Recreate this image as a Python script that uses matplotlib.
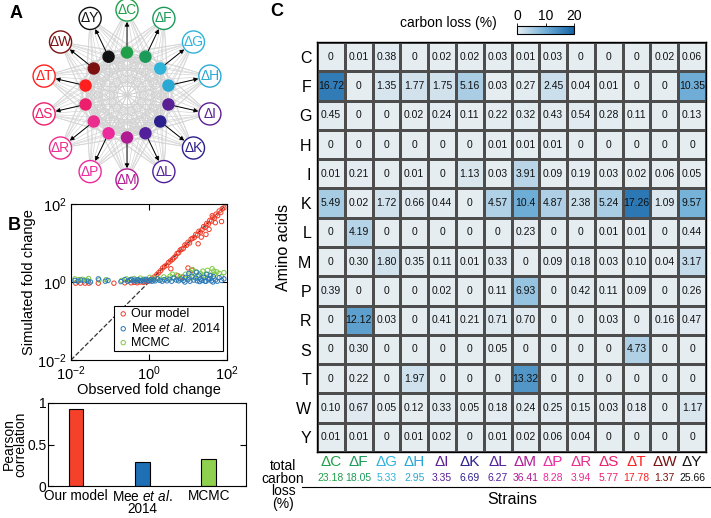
import numpy as np
import matplotlib
matplotlib.use("Agg")
import matplotlib.pyplot as plt
from matplotlib.patches import Circle
from matplotlib.lines import Line2D
from matplotlib.colors import LinearSegmentedColormap
from matplotlib.ticker import LogLocator, LogFormatterMathtext, NullLocator
import matplotlib.transforms as mtransforms

plt.rcParams['font.family'] = ['Liberation Sans', 'DejaVu Sans']
plt.rcParams['mathtext.fontset'] = 'custom'
plt.rcParams['mathtext.rm'] = 'Liberation Sans'
plt.rcParams['mathtext.it'] = 'Liberation Sans:italic'

# ---------------- data ----------------
strains = ['C', 'F', 'G', 'H', 'I', 'K', 'L', 'M', 'P', 'R', 'S', 'T', 'W', 'Y']
strain_colors = ['#1fa048', '#1b9a5a', '#2eb4da', '#2aa8d4', '#5a1f94', '#2a1f8c',
                 '#51209a', '#b01a93', '#ec2a9c', '#ea2d8e', '#ec1f6c', '#ff1f1f',
                 '#7c1010', '#111111']
amino_acids = ['C', 'F', 'G', 'H', 'I', 'K', 'L', 'M', 'P', 'R', 'S', 'T', 'W', 'Y']

loss_text = [
    ['0', '0.01', '0.38', '0', '0.02', '0.02', '0.03', '0.01', '0.03', '0', '0', '0', '0.02', '0.06'],
    ['16.72', '0', '1.35', '1.77', '1.75', '5.16', '0.03', '0.27', '2.45', '0.04', '0.01', '0', '0', '10.35'],
    ['0.45', '0', '0', '0.02', '0.24', '0.11', '0.22', '0.32', '0.43', '0.54', '0.28', '0.11', '0', '0.13'],
    ['0', '0', '0', '0', '0', '0', '0.01', '0.01', '0.01', '0', '0', '0', '0', '0'],
    ['0.01', '0.21', '0', '0.01', '0', '1.13', '0.03', '3.91', '0.09', '0.19', '0.03', '0.02', '0.06', '0.05'],
    ['5.49', '0.02', '1.72', '0.66', '0.44', '0', '4.57', '10.4', '4.87', '2.38', '5.24', '17.26', '1.09', '9.57'],
    ['0', '4.19', '0', '0', '0', '0', '0', '0.23', '0', '0', '0.01', '0.01', '0', '0.44'],
    ['0', '0.30', '1.80', '0.35', '0.11', '0.01', '0.33', '0', '0.09', '0.18', '0.03', '0.10', '0.04', '3.17'],
    ['0.39', '0', '0', '0', '0.02', '0', '0.11', '6.93', '0', '0.42', '0.11', '0.09', '0', '0.26'],
    ['0', '12.12', '0.03', '0', '0.41', '0.21', '0.71', '0.70', '0', '0', '0.03', '0', '0.16', '0.47'],
    ['0', '0.30', '0', '0', '0', '0', '0.05', '0', '0', '0', '0', '4.73', '0', '0'],
    ['0', '0.22', '0', '1.97', '0', '0', '0', '13.32', '0', '0', '0', '0', '0', '0'],
    ['0.10', '0.67', '0.05', '0.12', '0.33', '0.05', '0.18', '0.24', '0.25', '0.15', '0.03', '0.18', '0', '1.17'],
    ['0.01', '0.01', '0', '0.01', '0.02', '0', '0.01', '0.02', '0.06', '0.04', '0', '0', '0', '0'],
]
total_loss = ['23.18', '18.05', '5.33', '2.95', '3.35', '6.69', '6.27', '36.41',
              '8.28', '3.94', '5.77', '17.78', '1.37', '25.66']

bar_labels = ['Our model', 'Mee $\\it{et}$ $\\it{al.}$\n2014', 'MCMC']
bar_values = [0.93, 0.29, 0.33]
bar_colors = ['#f5402a', '#1f6fb5', '#8fd14f']

# log10 observed / simulated fold change
our_x = [-1.88, -1.76, -1.64, -1.54, -1.30, -0.90, -0.62, -0.46, -0.38, -0.30,
         -0.22, -0.14, -0.06, 0.02, 0.08, 0.14, 0.20, 0.25, 0.30, 0.35,
         0.40, 0.45, 0.50, 0.55, 0.60, 0.64, 0.68, 0.72, 0.76, 0.80,
         0.84, 0.88, 0.92, 0.96, 1.00, 1.04, 1.08, 1.12, 1.16, 1.20,
         1.24, 1.28, 1.32, 1.36, 1.40, 1.44, 1.48, 1.52, 1.56, 1.60,
         1.64, 1.68, 1.72, 1.76, 1.80, 1.84, 1.88, 1.92, 0.74, 0.86,
         1.00, 1.10, 1.26, 1.46, 1.54, 1.70, 1.86, 0.56, 1.34, 1.62]
our_y = [-0.03, -0.03, -0.03, -0.03, -0.03, -0.03, -0.02, -0.02, -0.01, -0.02,
         0.00, -0.01, 0.01, 0.03, 0.09, 0.13, 0.19, 0.24, 0.29, 0.36,
         0.40, 0.43, 0.50, 0.54, 0.58, 0.62, 0.66, 0.73, 0.75, 0.82,
         0.84, 0.86, 0.95, 0.94, 1.02, 1.00, 1.10, 1.12, 1.14, 1.22,
         1.20, 1.30, 1.28, 1.34, 1.42, 1.40, 1.50, 1.48, 1.58, 1.56,
         1.66, 1.64, 1.74, 1.70, 1.82, 1.78, 1.88, 1.90, 0.16, 0.12,
         0.36, 0.30, 0.98, 1.22, 1.35, 1.52, 1.55, 0.34, 1.15, 1.70]
mee_x = [-1.90, -1.82, -1.75, -1.66, -1.56, -1.50, -1.30, -1.12, -1.05, -0.72,
         -0.62, -0.55, -0.50, -0.45, -0.40, -0.36, -0.32, -0.28, -0.24, -0.20,
         -0.16, -0.12, -0.08, -0.04, 0.00, 0.04, 0.08, 0.12, 0.16, 0.22,
         0.28, 0.34, 0.40, 0.46, 0.52, 0.58, 0.64, 0.70, 0.76, 0.82,
         0.88, 0.94, 1.00, 1.05, 1.10, 1.15, 1.20, 1.24, 1.28, 1.32,
         1.36, 1.40, 1.44, 1.48, 1.52, 1.56, 1.60, 1.65, 1.70, 1.75,
         1.80, 1.86, 1.92, 0.92, 1.02, 1.22, 1.30, 1.46, 1.58, 1.64]
mee_y = [0.04, 0.02, 0.05, 0.03, 0.02, 0.00, 0.08, 0.02, 0.04, 0.01,
         0.06, 0.02, 0.04, 0.07, 0.03, 0.05, 0.02, 0.06, 0.04, 0.03,
         0.05, 0.02, 0.07, 0.04, 0.03, 0.06, 0.02, 0.05, 0.03, 0.08,
         0.04, 0.02, 0.06, 0.03, 0.07, 0.02, 0.10, 0.05, 0.03, 0.08,
         0.04, 0.12, 0.06, 0.02, 0.15, 0.05, 0.10, 0.03, 0.18, 0.07,
         0.04, 0.12, 0.02, 0.20, 0.06, 0.09, 0.03, 0.14, 0.05, 0.02,
         0.11, 0.04, 0.08, 0.00, 0.22, 0.25, 0.01, 0.02, 0.16, 0.00]
mcmc_x = [-1.90, -1.80, -1.70, -1.60, -1.55, -1.28, -1.10, -0.70, -0.58, -0.48,
          -0.38, -0.30, -0.22, -0.14, -0.06, 0.02, 0.10, 0.20, 0.30, 0.38,
          0.46, 0.54, 0.62, 0.70, 0.78, 0.86, 0.94, 1.02, 1.08, 1.14,
          1.20, 1.26, 1.32, 1.38, 1.44, 1.50, 1.56, 1.62, 1.68, 1.74,
          1.80, 1.86, 1.92, 1.12, 1.40, 1.66, 0.60]
mcmc_y = [0.08, 0.06, 0.07, 0.05, 0.09, 0.05, 0.06, 0.04, 0.08, 0.06,
          0.09, 0.05, 0.10, 0.07, 0.06, 0.12, 0.08, 0.10, 0.07, 0.13,
          0.09, 0.15, 0.11, 0.18, 0.08, 0.14, 0.20, 0.10, 0.24, 0.12,
          0.26, 0.15, 0.22, 0.28, 0.12, 0.30, 0.18, 0.34, 0.20, 0.26,
          0.22, 0.14, 0.24, 0.32, 0.17, 0.28, 0.20]

# ---------------- layout ----------------
W, H = 711, 518
fig = plt.figure(figsize=(W / 100, H / 100), dpi=100)


def px_box(l, t, r, b):
    return [l / W, 1 - b / H, (r - l) / W, (b - t) / H]


# ---------------- panel A: network ----------------
axA = fig.add_axes(px_box(22, 0, 232, 190))
axA.set_xlim(-2.47, 2.47)
axA.set_ylim(-2.235, 2.235)
axA.set_aspect('equal')
axA.axis('off')

n = len(strains)
ang = np.deg2rad(90 - np.arange(n) * 360 / n)
r_in, r_out = 1.0, 2.0
xi, yi = r_in * np.cos(ang), r_in * np.sin(ang)
xo, yo = r_out * np.cos(ang), r_out * np.sin(ang)

for i in range(n):
    for j in range(i + 1, n):
        axA.plot([xi[i], xi[j]], [yi[i], yi[j]], color='#cfcfcf', lw=0.5, zorder=1)
    for j in range(n):
        if j != i:
            axA.plot([xo[i], xi[j]], [yo[i], yi[j]], color='#d4d4d4', lw=0.5, zorder=1)

for k in range(n):
    axA.annotate('', xy=(xo[k], yo[k]), xytext=(xi[k], yi[k]),
                 arrowprops=dict(arrowstyle='-|>', color='k', lw=0.7,
                                 mutation_scale=6, shrinkA=4, shrinkB=8.5),
                 zorder=3)
    axA.add_patch(Circle((xi[k], yi[k]), 0.13, color=strain_colors[k], zorder=4))
    axA.add_patch(Circle((xo[k], yo[k]), 0.26, facecolor='white',
                         edgecolor=strain_colors[k], lw=1.0, zorder=4))
    axA.text(xo[k], yo[k], '\u0394' + strains[k], color=strain_colors[k],
             ha='center', va='center', fontsize=10, zorder=5)

# ---------------- panel B: scatter ----------------
axS = fig.add_axes(px_box(71, 204, 227, 360))
axS.set_xscale('log')
axS.set_yscale('log')
axS.set_xlim(1e-2, 1e2)
axS.set_ylim(1e-2, 1e2)
axS.plot([1e-2, 1e2], [1e-2, 1e2], '--', color='#333333', lw=0.9, zorder=1)
axS.scatter(10 ** np.array(our_x), 10 ** np.array(our_y), s=10, facecolors='none',
            edgecolors='#f03c28', linewidths=0.7, label='Our model', zorder=2)
axS.scatter(10 ** np.array(mcmc_x), 10 ** np.array(mcmc_y), s=10, facecolors='none',
            edgecolors='#7fc843', linewidths=0.7, label='MCMC', zorder=2)
axS.scatter(10 ** np.array(mee_x), 10 ** np.array(mee_y), s=10, facecolors='none',
            edgecolors='#2a78b8', linewidths=0.7, label='Mee $\\it{et}$ $\\it{al.}$ 2014', zorder=3)
for axis in (axS.xaxis, axS.yaxis):
    axis.set_major_locator(LogLocator(base=100))
    axis.set_major_formatter(LogFormatterMathtext(base=10))
    axis.set_minor_locator(NullLocator())
axS.tick_params(direction='in', top=True, right=True, labelsize=10.5, length=4, pad=3)
axS.set_xlabel('Observed fold change', fontsize=10.5, labelpad=0)
axS.set_ylabel('Simulated fold change', fontsize=10.5, labelpad=1)
h, l = axS.get_legend_handles_labels()
leg = axS.legend([h[0], h[2], h[1]], [l[0], l[2], l[1]], loc='lower right',
                 bbox_to_anchor=(0.975, 0.055), fontsize=9, fancybox=False,
                 edgecolor='k', framealpha=1, handletextpad=0.1, borderpad=0.2,
                 labelspacing=0.15, handlelength=1.0, borderaxespad=0)
leg.get_frame().set_linewidth(0.8)

# ---------------- panel B: bars ----------------
axB = fig.add_axes(px_box(48, 403, 246, 486))
xb = np.arange(len(bar_values))
axB.bar(xb, bar_values, width=0.22, color=bar_colors, edgecolor='k', linewidth=0.8)
axB.set_xlim(-0.42, 2.56)
axB.set_ylim(0, 1)
axB.set_yticks([0, 0.5, 1])
axB.set_yticklabels(['0', '0.5', '1'])
axB.set_xticks(xb)
axB.set_xticklabels(bar_labels, linespacing=0.85)
axB.tick_params(axis='y', direction='in', right=True, labelsize=10, length=4, pad=1)
axB.tick_params(axis='x', length=0, labelsize=9.8, pad=2)
axB.set_ylabel('Pearson\ncorrelation', fontsize=10, linespacing=0.8, labelpad=0)

# ---------------- panel C: heatmap ----------------
loss_vals = np.array([[float(v) for v in row] for row in loss_text])
cmap = LinearSegmentedColormap.from_list('closs', ['#e6edf1', '#72b0d8', '#1263a6'])
axC = fig.add_axes(px_box(317, 42, 706, 452))
mesh = axC.pcolormesh(loss_vals, cmap=cmap, vmin=0, vmax=20,
                      edgecolors='#4d4d4d', linewidth=0.8)
axC.set_xlim(0, len(strains))
axC.set_ylim(len(amino_acids), 0)
for i in range(len(amino_acids)):
    for j in range(len(strains)):
        axC.text(j + 0.5, i + 0.5, loss_text[i][j], ha='center', va='center',
                 fontsize=7.5, color='#111111')
axC.set_xticks([])
axC.set_yticks(np.arange(len(amino_acids)) + 0.5)
axC.set_yticklabels(amino_acids, fontsize=11.5)
axC.tick_params(axis='y', length=0, pad=4)
axC.set_ylabel('Amino acids', fontsize=11.5, labelpad=4)
for sp in axC.spines.values():
    sp.set_linewidth(1.0)

trans = mtransforms.blended_transform_factory(axC.transData, axC.transAxes)
for j in range(len(strains)):
    axC.text(j + 0.5, -0.025, '\u0394' + strains[j], color=strain_colors[j],
             ha='center', va='center', fontsize=11, transform=trans)
    axC.text(j + 0.5, -0.064, total_loss[j], color=strain_colors[j],
             ha='center', va='center', fontsize=7.5, transform=trans)

fig.add_artist(Line2D([302 / W, 710 / W], [1 - 487 / H, 1 - 487 / H], color='k', lw=0.8))
fig.text(512 / W, 1 - 500 / H, 'Strains', ha='center', va='center', fontsize=11.5)
fig.text(283 / W, 1 - 485 / H, 'total\ncarbon\nloss\n(%)', ha='center', va='center',
         fontsize=10, linespacing=0.85)

# colorbar
cax = fig.add_axes(px_box(517, 26, 574, 34))
cb = fig.colorbar(mesh, cax=cax, orientation='horizontal', ticks=[0, 10, 20])
cax.xaxis.set_ticks_position('top')
cax.tick_params(labelsize=10, length=2, pad=0.5, width=0.6)
cb.outline.set_linewidth(0.8)
fig.text(448 / W, 1 - 23 / H, 'carbon loss (%)', ha='center', va='center', fontsize=10)

# panel letters
fig.text(10 / W, 1 - 14 / H, 'A', fontsize=13, fontweight='bold', ha='left', va='center')
fig.text(8 / W, 1 - 226 / H, 'B', fontsize=13, fontweight='bold', ha='left', va='center')
fig.text(270 / W, 1 - 12 / H, 'C', fontsize=13, fontweight='bold', ha='left', va='center')

fig.savefig('out.png', dpi=100)
